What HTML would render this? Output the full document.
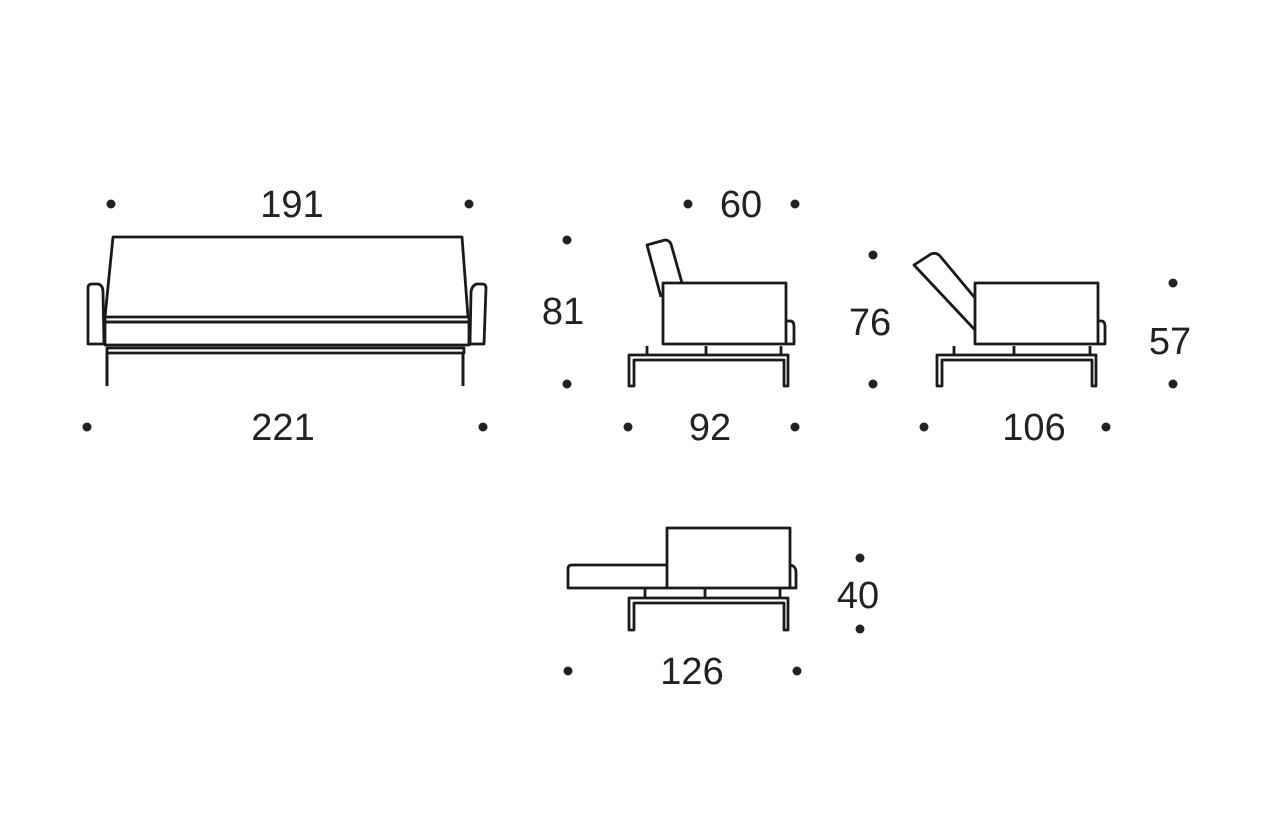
<!DOCTYPE html>
<html><head><meta charset="utf-8"><style>
html,body{margin:0;padding:0;background:#fff;}
svg{display:block}
text{font-family:"Liberation Sans",sans-serif;font-size:38px;fill:#222;text-anchor:middle}
</style></head><body>
<svg width="1280" height="826" viewBox="0 0 1280 826" xmlns="http://www.w3.org/2000/svg">
<g fill="#222">
<circle cx="111" cy="204" r="4.5"/><circle cx="469" cy="204" r="4.5"/>
<circle cx="87" cy="427" r="4.5"/><circle cx="483" cy="427" r="4.5"/>
<circle cx="567" cy="240" r="4.5"/><circle cx="567" cy="384" r="4.5"/>
<circle cx="688" cy="204" r="4.5"/><circle cx="795" cy="204" r="4.5"/>
<circle cx="628" cy="427" r="4.5"/><circle cx="795" cy="427" r="4.5"/>
<circle cx="873" cy="255" r="4.5"/><circle cx="873" cy="384" r="4.5"/>
<circle cx="924" cy="427" r="4.5"/><circle cx="1106" cy="427" r="4.5"/>
<circle cx="1173" cy="283" r="4.5"/><circle cx="1173" cy="384" r="4.5"/>
<circle cx="860" cy="558" r="4.5"/><circle cx="860" cy="629" r="4.5"/>
<circle cx="568" cy="671" r="4.5"/><circle cx="797" cy="671" r="4.5"/>
</g>
<text x="292" y="217">191</text>
<text x="283" y="440">221</text>
<text x="563" y="324">81</text>
<text x="741" y="217">60</text>
<text x="710" y="440">92</text>
<text x="870" y="335">76</text>
<text x="1034" y="440">106</text>
<text x="1170" y="354">57</text>
<text x="858" y="608">40</text>
<text x="692" y="684">126</text>
<g fill="none" stroke="#1a1a1a" stroke-width="2.8" stroke-linejoin="round">
<path d="M105 317 L113 237 L462 237 L468 317"/>
<rect x="105" y="317" width="364" height="5"/>
<rect x="105" y="322" width="364" height="23"/>
<path d="M88 344 L88 288 Q88 284 92 284 L98 284 Q103 285 103 292 L104 344 Z"/>
<path d="M470 344 L471 292 Q472 285 477 284 L482 284 Q486 284 486 288 L484 344 Z"/>
<rect x="107" y="348" width="357" height="5"/>
<line x1="107" y1="353" x2="107" y2="386" stroke-width="3"/>
<line x1="463" y1="353" x2="463" y2="386" stroke-width="3"/>
<path d="M661 297 L647 245 L665 240 Q669 240 671 244 L682 283"/>
<rect x="663" y="283" width="123" height="61"/>
<path d="M786 321 L791 321 Q794 322 794 326 L794 344 L786 344"/>
<path d="M647 346 L647 355 M706 346 L706 355 M781 346 L781 355"/>
<path d="M629 386 L629 355 L788 355 L788 386 L784 386 L784 360 L634 360 L634 386 Z"/>
<path d="M975 330 L914 265 L931 254 Q936 252 940 256 L975 298"/>
<rect x="975" y="283" width="123" height="61"/>
<path d="M1098 321 L1102 321 Q1105 322 1105 326 L1105 344 L1098 344"/>
<path d="M954 346 L954 355 M1014 346 L1014 355 M1090 346 L1090 355"/>
<path d="M937 386 L937 355 L1096 355 L1096 386 L1092 386 L1092 360 L942 360 L942 386 Z"/>
<path d="M667 588 L568 588 L568 569 Q568 565 572 565 L667 565"/>
<rect x="667" y="528" width="123" height="60"/>
<path d="M790 565 L793 566 Q796 568 796 572 L796 588 L790 588"/>
<path d="M645 588 L645 598 M705 588 L705 598 M780 588 L780 598"/>
<path d="M629 630 L629 598 L788 598 L788 630 L784 630 L784 603 L634 603 L634 630 Z"/>
</g>
</svg>
</body></html>
